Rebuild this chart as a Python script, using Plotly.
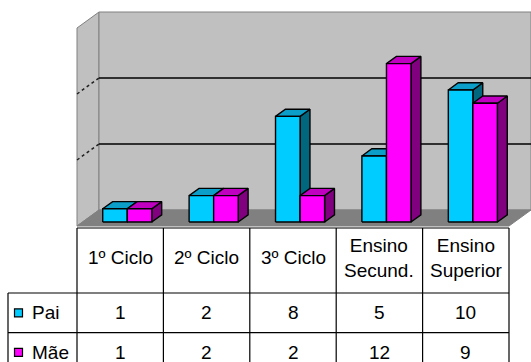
import plotly.graph_objects as go

# ---- data -------------------------------------------------------------
categories = ["1º Ciclo", "2º Ciclo", "3º Ciclo", "Ensino<br>Secund.", "Ensino<br>Superior"]
series_names = ["Pai", "Mãe"]
pai = [1, 2, 8, 5, 10]
mae = [1, 2, 2, 12, 9]
gridlines = [5, 10]
v_max = 15

# ---- styling ----------------------------------------------------------
W, H = 531, 362
FONT = "Liberation Sans, Arial, sans-serif"
FS = 19
front_col = ["#00CCFF", "#FF00FF"]
top_col = ["#0A9EC8", "#C000C0"]
side_col = ["#00677F", "#800080"]

# pixel scale of the axes: one category step and one value unit
PX_CAT, PX_VAL = 86.4, 13.2
X0_PX, Y0_PX = 120.2, 226.0
DEPTH_PX = (22.0, 16.0)           # oblique offset from front to back of floor
DX, DY = DEPTH_PX[0] / PX_CAT, DEPTH_PX[1] / PX_VAL

x_range = [-X0_PX / PX_CAT, (W - X0_PX) / PX_CAT]
y_range = [-(H - Y0_PX) / PX_VAL, Y0_PX / PX_VAL]


def P(x, v, d):
    """Oblique projection of (category x, value v, depth d in 0..1)."""
    return x + d * DX, v + d * DY


def poly(points, fill, line="black", width=1.4):
    xs = [p[0] for p in points] + [points[0][0]]
    ys = [p[1] for p in points] + [points[0][1]]
    return go.Scatter(x=xs, y=ys, mode="lines", fill="toself", fillcolor=fill,
                      line=dict(color=line, width=width), hoverinfo="skip",
                      showlegend=False)


def seg(a, b, color, width=1, dash="solid"):
    return go.Scatter(x=[a[0], b[0]], y=[a[1], b[1]], mode="lines",
                      line=dict(color=color, width=width, dash=dash),
                      hoverinfo="skip", showlegend=False)


fig = go.Figure()
n = len(categories)
xl, xr = -0.5, n - 0.5

# walls and floor
fig.add_trace(poly([P(xl, 0, 0), P(xl, v_max, 0), P(xl, v_max, 1), P(xl, 0, 1)],
                   "#C0C0C0", "#808080", 1))
fig.add_trace(poly([P(xl, 0, 1), P(xl, v_max, 1), P(xr, v_max, 1), P(xr, 0, 1)],
                   "#C0C0C0", "#808080", 1))
fig.add_trace(poly([P(xl, 0, 0), P(xr, 0, 0), P(xr, 0, 1), P(xl, 0, 1)],
                   "#808080", "#808080", 1))

# gridlines on back and side walls
for g in gridlines:
    fig.add_trace(seg(P(xl, g, 1), P(xr, g, 1), "black", 1.3))
    fig.add_trace(seg(P(xl, g, 0), P(xl, g, 1), "#202020", 1.5, "dot"))

# 3D bars
d0, d1 = 0.25, 0.70
bar_w = 0.284
pair_off = 0.018
values = [pai, mae]
for i in range(n):
    for s, vals in enumerate(values):
        v = vals[i]
        x0 = i + pair_off - bar_w + s * bar_w
        x1 = x0 + bar_w
        fig.add_trace(poly([P(x1, 0, d0), P(x1, v, d0), P(x1, v, d1), P(x1, 0, d1)],
                           side_col[s]))
        fig.add_trace(poly([P(x0, v, d0), P(x0, v, d1), P(x1, v, d1), P(x1, v, d0)],
                           top_col[s]))
        fig.add_trace(poly([P(x0, 0, d0), P(x0, v, d0), P(x1, v, d0), P(x1, 0, d0)],
                           front_col[s]))

# ---- data table -------------------------------------------------------
def py(px):
    return (Y0_PX - px) / PX_VAL


def pxx(px):
    return (px - X0_PX) / PX_CAT


t_top, t_head, t_row1, t_bot = py(228), py(293), py(332.7), py(372)
x_leg = pxx(8)
shapes = []


def hline(x_a, x_b, y):
    shapes.append(dict(type="line", xref="x", yref="y", x0=x_a, x1=x_b, y0=y, y1=y,
                       line=dict(color="black", width=1.2)))


def vline(x, y_a, y_b):
    shapes.append(dict(type="line", xref="x", yref="y", x0=x, x1=x, y0=y_a, y1=y_b,
                       line=dict(color="black", width=1.2)))


hline(xl, xr, t_top)
hline(x_leg, xr, t_head)
hline(x_leg, xr, t_row1)
for k in range(n + 1):
    vline(xl + k, t_top, t_bot)
vline(x_leg, t_head, t_bot)

annotations = []
for i, c in enumerate(categories):
    annotations.append(dict(x=i, y=(t_top + t_head) / 2 + 0.2, xref="x", yref="y",
                            text=c, showarrow=False,
                            font=dict(family=FONT, size=FS, color="black")))

row_centres = [(t_head + t_row1) / 2, (t_row1 + t_bot) / 2]
for s, (name, vals) in enumerate(zip(series_names, values)):
    yc = row_centres[s]
    for i, v in enumerate(vals):
        annotations.append(dict(x=i, y=yc, xref="x", yref="y", text=str(v),
                                showarrow=False,
                                font=dict(family=FONT, size=FS, color="black")))
    annotations.append(dict(x=pxx(30), y=yc, xref="x", yref="y", text=name,
                            xanchor="left", showarrow=False,
                            font=dict(family=FONT, size=FS, color="black")))
    fig.add_trace(go.Scatter(x=[pxx(18.5)], y=[yc], mode="markers",
                             marker=dict(symbol="square", size=8, color=front_col[s],
                                         line=dict(color="black", width=1.2)),
                             hoverinfo="skip", showlegend=False))

fig.update_layout(
    width=W, height=H,
    margin=dict(l=0, r=0, t=0, b=0),
    paper_bgcolor="white", plot_bgcolor="rgba(0,0,0,0)",
    xaxis=dict(range=x_range, visible=False, fixedrange=True),
    yaxis=dict(range=y_range, visible=False, fixedrange=True),
    shapes=shapes, annotations=annotations,
    showlegend=False,
)

fig.write_html("out.html")
